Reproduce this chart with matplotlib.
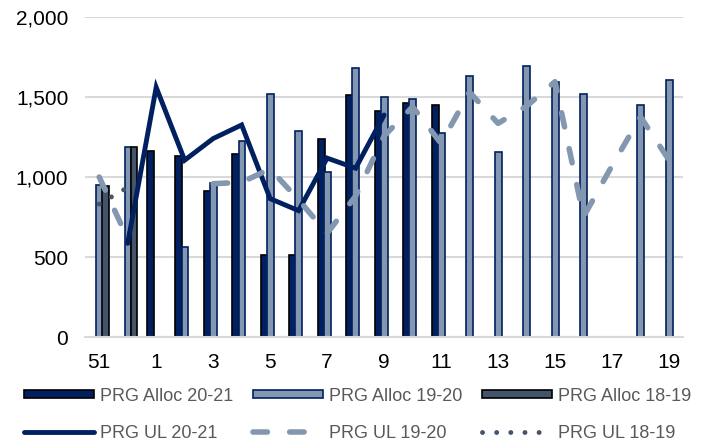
import numpy as np
import matplotlib
matplotlib.use('Agg')
import matplotlib.pyplot as plt
from matplotlib.lines import Line2D
from matplotlib.patches import Patch

plt.rcParams['font.family'] = ['Liberation Sans', 'DejaVu Sans']

# 周次
weeks = ['51', '52', '1', '2', '3', '4', '5', '6', '7', '8', '9', '10',
         '11', '12', '13', '14', '15', '16', '17', '18', '19']
nan = np.nan
alloc_2021 = [nan, nan, 1165, 1130, 910, 1145, 515, 515, 1240, 1510, 1415, 1460,
              1450, nan, nan, nan, nan, nan, nan, nan, nan]
alloc_1920 = [950, 1190, nan, 565, 960, 1225, 1520, 1290, 1030, 1680, 1500, 1485,
              1275, 1630, 1155, 1690, 1595, 1520, nan, 1450, 1605]
alloc_1819 = [945, 1190, nan, nan, nan, nan, nan, nan, nan, nan, nan, nan,
              nan, nan, nan, nan, nan, nan, nan, nan, nan]
ul_2021 = [nan, 586, 1560, 1105, 1240, 1325, 865, 790, 1118, 1055, 1387, nan,
           nan, nan, nan, nan, nan, nan, nan, nan, nan]
ul_1920 = [1000, 615, nan, nan, 958, 967, 1051, 857, 649, 881, 1256, 1438,
           1210, 1530, 1335, 1442, 1595, 752, 1070, 1376, 1106]
ul_1819 = [831, 935, nan, nan, nan, nan, nan, nan, nan, nan, nan, nan,
           nan, nan, nan, nan, nan, nan, nan, nan, nan]

navy = '#002060'
light = '#8497B0'
slate = '#44546A'

fig = plt.figure(figsize=(7.08, 4.42), dpi=100)
ax = fig.add_axes([0.12, 0.237, 0.845, 0.725])

x = np.arange(len(weeks))
w = 0.24
ax.bar(x - 0.21, alloc_2021, w, color=navy, edgecolor='black', linewidth=1.2, zorder=2)
ax.bar(x + 0.01, alloc_1920, w, color=light, edgecolor=navy, linewidth=1.2, zorder=2)
ax.bar(x + 0.22, alloc_1819, w, color=slate, edgecolor='black', linewidth=1.2, zorder=2)

ax.plot(x, ul_2021, color=navy, lw=3.5, solid_capstyle='round', solid_joinstyle='miter', zorder=4)
l2, = ax.plot(x, ul_1920, color=light, lw=4, dash_capstyle='round', zorder=4)
l2.set_dashes([2.6, 4.0])
l3, = ax.plot(x, ul_1819, color=slate, lw=3.5, dash_capstyle='round', zorder=4)
l3.set_dashes([0.01, 2.9])

ax.set_ylim(0, 2000)
ax.set_xlim(-0.5, len(weeks) - 0.5)
ax.set_yticks([0, 500, 1000, 1500, 2000])
ax.set_yticklabels(['0', '500', '1,000', '1,500', '2,000'])
ax.set_xticks(x)
ax.set_xticklabels([t if i % 2 == 0 else '' for i, t in enumerate(weeks)])
ax.tick_params(axis='both', length=0, labelsize=15, colors='black')
ax.tick_params(axis='y', pad=12)
ax.tick_params(axis='x', pad=11)
ax.grid(axis='y', color='#d9d9d9', lw=1.5, zorder=0)
for s in ['top', 'right', 'left']:
    ax.spines[s].set_visible(False)
ax.spines['bottom'].set_color('#d9d9d9')
ax.spines['bottom'].set_linewidth(1.5)

# 图例
h_a20 = Patch(facecolor=navy, edgecolor='black', lw=1.2)
h_a19 = Patch(facecolor=light, edgecolor=navy, lw=1.2)
h_a18 = Patch(facecolor=slate, edgecolor='black', lw=1.2)
h_u20 = Line2D([], [], color=navy, lw=3.5, solid_capstyle='round')
h_u19 = Line2D([], [], color=light, lw=4, dash_capstyle='round', dashes=[2.6, 4.0])
h_u18 = Line2D([], [], color=slate, lw=3.5, dash_capstyle='round', dashes=[0.01, 2.9])
handles = [h_a20, h_u20, h_a19, h_u19, h_a18, h_u18]
labels = ['PRG Alloc 20-21', 'PRG UL 20-21', 'PRG Alloc 19-20', 'PRG UL 19-20',
          'PRG Alloc 18-19', 'PRG UL 18-19']
leg = fig.legend(handles, labels, ncol=3, loc='center', bbox_to_anchor=(0.505, 0.062),
                 frameon=False, fontsize=13, handlelength=3.9, handleheight=0.35,
                 handletextpad=0.3, columnspacing=1.1, labelspacing=1.1)
for t in leg.get_texts():
    t.set_color('#595959')

plt.savefig('out.png', dpi=100)
